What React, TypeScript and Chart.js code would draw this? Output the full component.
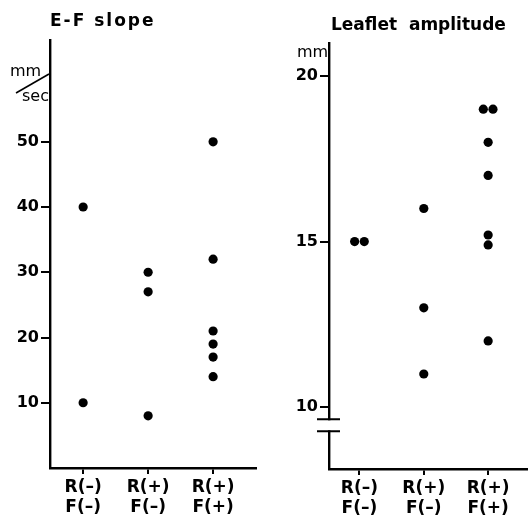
import React, { useEffect, useRef } from "react";
import { Chart, registerables } from "chart.js";

Chart.register(...registerables);

// ---- data ----
const categories = [
  ["R(–)", "F(–)"],
  ["R(+)", "F(–)"],
  ["R(+)", "F(+)"],
];

const efSlopeGroup = [1, 1, 2, 2, 2, 3, 3, 3, 3, 3, 3];
const efSlopeValues = [40, 10, 30, 27, 8, 50, 32, 21, 19, 17, 14];
const efSlopeTicks = [10, 20, 30, 40, 50];

const amplitudeGroup = [1, 1, 2, 2, 2, 3, 3, 3, 3, 3, 3, 3];
const amplitudeSide = [-1, 1, 0, 0, 0, -1, 1, 0, 0, 0, 0, 0];
const amplitudeValues = [15, 15, 16, 13, 11, 19, 19, 18, 17, 15.2, 14.9, 12];
const amplitudeTicks = [10, 15, 20];
const amplitudeBreak = 9.45;

const FONT = "'DejaVu Sans', 'Liberation Sans', sans-serif";
const PAIR_OFFSET = 0.075;

type Extra = (ctx: CanvasRenderingContext2D, chart: any) => void;

function makeConfig(p: {
  xs: number[];
  ys: number[];
  xMin: number;
  xMax: number;
  yMin: number;
  yMax: number;
  yTicks: number[];
  yAxisWidth: number;
  xAxisHeight: number;
  padTop: number;
  padRight: number;
  extra: Extra;
}): any {
  return {
    type: "scatter",
    data: {
      datasets: [
        {
          data: p.xs.map((x, i) => ({ x, y: p.ys[i] })),
          pointRadius: 4.6,
          pointHoverRadius: 4.6,
          pointBackgroundColor: "#000",
          pointBorderColor: "#000",
          pointBorderWidth: 0,
          showLine: false,
        },
      ],
    },
    options: {
      animation: false,
      responsive: false,
      maintainAspectRatio: false,
      events: [],
      layout: { padding: { top: p.padTop, right: p.padRight, left: 0, bottom: 0 } },
      plugins: {
        legend: { display: false },
        tooltip: { enabled: false },
        title: { display: false },
      },
      scales: {
        x: {
          type: "linear",
          min: p.xMin,
          max: p.xMax,
          afterBuildTicks: (s: any) => {
            s.ticks = categories.map((_, i) => ({ value: i + 1 }));
          },
          afterFit: (s: any) => {
            s.height = p.xAxisHeight;
          },
          grid: {
            display: true,
            drawOnChartArea: false,
            drawTicks: true,
            tickLength: 6,
            color: "#000",
            lineWidth: 2,
          },
          border: { display: true, color: "#000", width: 2.4 },
          ticks: {
            color: "#000",
            font: { family: FONT, size: 17, weight: "bold", lineHeight: 1.2 },
            padding: 3,
            maxRotation: 0,
            autoSkip: false,
            callback: (v: number) => categories[Math.round(v) - 1] || "",
          },
        },
        y: {
          type: "linear",
          min: p.yMin,
          max: p.yMax,
          afterBuildTicks: (s: any) => {
            s.ticks = p.yTicks.map((v) => ({ value: v }));
          },
          afterFit: (s: any) => {
            s.width = p.yAxisWidth;
          },
          grid: {
            display: true,
            drawOnChartArea: false,
            drawTicks: true,
            tickLength: 9,
            color: "#000",
            lineWidth: 2,
          },
          border: { display: true, color: "#000", width: 2.4 },
          ticks: {
            color: "#000",
            font: { family: FONT, size: 16, weight: "bold" },
            padding: 2,
            autoSkip: false,
            callback: (v: number) => String(v),
          },
        },
      },
    },
    plugins: [
      {
        id: "annotations",
        afterDraw(chart: any) {
          const ctx = chart.ctx as CanvasRenderingContext2D;
          ctx.save();
          p.extra(ctx, chart);
          ctx.restore();
        },
      },
    ],
  };
}

const leftExtra: Extra = (ctx) => {
  ctx.fillStyle = "#000";
  ctx.textBaseline = "alphabetic";
  ctx.textAlign = "left";
  ctx.font = `bold 17px ${FONT}`;
  (ctx as any).letterSpacing = "2px";
  ctx.fillText("E-F slope", 50, 26);
  (ctx as any).letterSpacing = "0px";
  ctx.font = `16px ${FONT}`;
  ctx.fillText("mm", 10, 76);
  ctx.fillText("sec", 22, 101);
  ctx.strokeStyle = "#000";
  ctx.lineWidth = 1.6;
  ctx.beginPath();
  ctx.moveTo(16, 93);
  ctx.lineTo(49, 74);
  ctx.stroke();
};

const rightExtra: Extra = (ctx, chart) => {
  ctx.fillStyle = "#000";
  ctx.textBaseline = "alphabetic";
  ctx.textAlign = "left";
  ctx.font = `bold 17px ${FONT}`;
  (ctx as any).letterSpacing = "0px";
  ctx.fillText("Leaflet  amplitude", 65, 30);
  ctx.font = `16px ${FONT}`;
  ctx.fillText("mm", 31, 57);
  // axis break
  const yScale = chart.scales.y;
  const xAxis = chart.chartArea.left;
  const yBreak = yScale.getPixelForValue(amplitudeBreak);
  ctx.fillStyle = "#fff";
  ctx.fillRect(xAxis - 4, yBreak - 5, 8, 10);
  ctx.strokeStyle = "#000";
  ctx.lineWidth = 2;
  ctx.beginPath();
  ctx.moveTo(xAxis - 12, yBreak - 6);
  ctx.lineTo(xAxis + 11, yBreak - 6);
  ctx.moveTo(xAxis - 12, yBreak + 6);
  ctx.lineTo(xAxis + 11, yBreak + 6);
  ctx.stroke();
};

export default function App() {
  const leftRef = useRef<HTMLCanvasElement>(null);
  const rightRef = useRef<HTMLCanvasElement>(null);

  useEffect(() => {
    const left = new Chart(
      leftRef.current!,
      makeConfig({
        xs: efSlopeGroup,
        ys: efSlopeValues,
        xMin: 0.49,
        xMax: 3.66,
        yMin: 0,
        yMax: 65.6,
        yTicks: efSlopeTicks,
        yAxisWidth: 50,
        xAxisHeight: 53,
        padTop: 40,
        padRight: 10,
        extra: leftExtra,
      })
    );
    const right = new Chart(
      rightRef.current!,
      makeConfig({
        xs: amplitudeGroup.map((g, i) => g + amplitudeSide[i] * PAIR_OFFSET),
        ys: amplitudeValues,
        xMin: 0.527,
        xMax: 3.61,
        yMin: 8.13,
        yMax: 21.0,
        yTicks: amplitudeTicks,
        yAxisWidth: 63,
        xAxisHeight: 52,
        padTop: 43,
        padRight: 0,
        extra: rightExtra,
      })
    );
    return () => {
      left.destroy();
      right.destroy();
    };
  }, []);

  return (
    <div
      style={{
        position: "absolute",
        left: 0,
        top: 0,
        width: 532,
        height: 521,
        background: "#fff",
        overflow: "hidden",
      }}
    >
      <canvas
        ref={leftRef}
        width={266}
        height={521}
        style={{ position: "absolute", left: 0, top: 0, width: 266, height: 521 }}
      />
      <canvas
        ref={rightRef}
        width={266}
        height={521}
        style={{ position: "absolute", left: 266, top: 0, width: 266, height: 521 }}
      />
    </div>
  );
}
